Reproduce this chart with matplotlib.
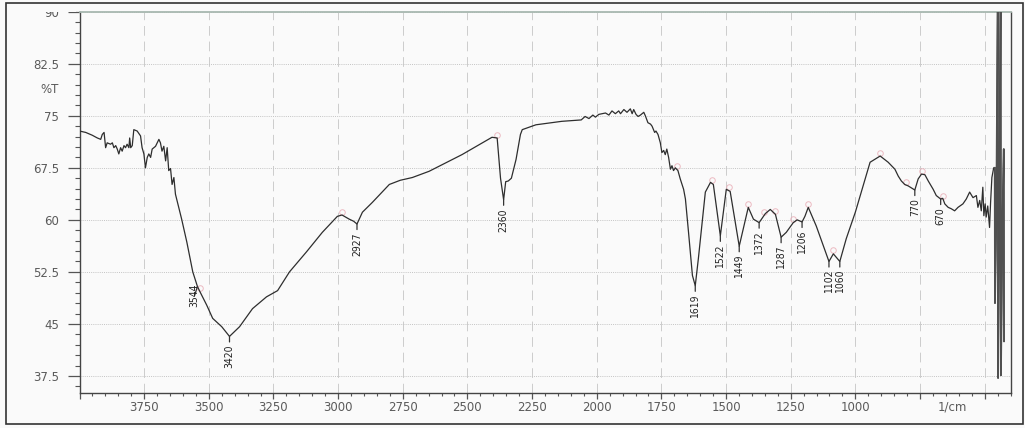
import matplotlib
matplotlib.use("Agg")
import matplotlib.pyplot as plt
import matplotlib.ticker as mticker
import matplotlib.transforms as mtrans
from matplotlib.patches import Rectangle
import numpy as np

# IR spectrum (wavenumber in 1/cm, %T)
wavenumber = [
    4000, 3976, 3951, 3931, 3918, 3912, 3905, 3899, 3893, 3880, 3873, 3867,
    3860, 3854, 3848, 3841, 3835, 3828, 3822, 3816, 3809, 3806, 3802, 3796,
    3790, 3777, 3764, 3758, 3751, 3745, 3738, 3732, 3725, 3719, 3706, 3693,
    3687, 3681, 3674, 3667, 3661, 3655, 3648, 3642, 3635, 3629, 3605, 3585,
    3562, 3544, 3535, 3508, 3485, 3450, 3420, 3381, 3331, 3277, 3234, 3188,
    3122, 3061, 3003, 2985, 2957, 2940, 2927, 2906, 2868, 2802, 2760, 2713,
    2648, 2521, 2405, 2385, 2372, 2360, 2352, 2342, 2330, 2312, 2295, 2288,
    2235, 2135, 2060, 2045, 2030, 2015, 2005, 1992, 1966, 1953, 1941, 1928,
    1915, 1908, 1895, 1883, 1870, 1863, 1857, 1848, 1840, 1831, 1818, 1812,
    1802, 1792, 1786, 1776, 1771, 1763, 1754, 1748, 1741, 1735, 1729, 1722,
    1715, 1709, 1703, 1696, 1686, 1677, 1664, 1657, 1645, 1630, 1619, 1607,
    1580, 1560, 1549, 1522, 1499, 1484, 1449, 1414, 1394, 1372, 1348, 1329,
    1309, 1287, 1267, 1240, 1225, 1206, 1195, 1182, 1151, 1102, 1085, 1060,
    1035, 1000, 943, 904, 873, 847, 834, 822, 809, 796, 770, 757, 744, 731,
    718, 699, 687, 670, 662, 654, 641, 629, 616, 603, 584, 571, 558, 545,
    532, 526, 519, 513, 507, 503, 498, 494, 488, 481, 477, 472, 465, 461,
    460, 455, 449, 448, 443, 438, 437, 431, 426, 425,
]
transmittance = [
    72.8, 72.6, 72.2, 71.8, 71.6, 72.3, 72.6, 70.4, 71.1, 70.9, 71.1, 70.4,
    70.7, 70.2, 69.5, 70.4, 69.9, 70.7, 70.4, 70.9, 70.4, 71.8, 70.4, 70.7,
    73.0, 72.8, 72.1, 70.4, 69.5, 67.5, 69.0, 69.5, 69.0, 70.2, 70.6, 71.6,
    71.1, 69.9, 70.6, 68.5, 70.4, 67.1, 67.4, 65.1, 66.1, 63.7, 60.1, 56.8,
    52.5, 50.4, 49.7, 47.7, 45.8, 44.6, 43.2, 44.6, 47.2, 48.9, 49.8, 52.5,
    55.4, 58.2, 60.5, 60.7, 60.1, 59.8, 59.4, 61.1, 62.5, 65.1, 65.7, 66.1,
    67.0, 69.4, 71.9, 71.8, 66.0, 62.9, 65.5, 65.6, 66.0, 68.7, 72.3, 73.0,
    73.7, 74.2, 74.4, 74.9, 74.6, 75.1, 74.8, 75.2, 75.4, 75.1, 75.7, 75.3,
    75.7, 75.3, 75.9, 75.5, 76.0, 75.3, 75.9, 75.2, 74.9, 75.1, 75.5, 75.0,
    74.0, 73.8, 73.5, 72.6, 72.8, 72.3, 71.1, 69.7, 70.0, 69.4, 70.2, 69.0,
    67.3, 67.8, 67.1, 67.5, 67.1, 65.9, 64.4, 63.0, 58.2, 52.0, 50.5, 54.4,
    64.0, 65.4, 65.1, 57.7, 64.4, 64.1, 56.2, 61.8, 60.1, 59.6, 60.9, 61.5,
    60.8, 57.5, 58.2, 59.6, 60.0, 59.7, 60.5, 61.8, 59.1, 54.0, 55.1, 54.0,
    57.3, 61.1, 68.3, 69.2, 68.3, 67.3, 66.3, 65.6, 65.1, 64.9, 64.3, 65.9,
    66.6, 66.5, 65.6, 64.4, 63.5, 63.0, 63.1, 62.3, 61.8, 61.6, 61.3, 61.8,
    62.3, 63.0, 64.0, 63.2, 63.5, 61.8, 62.8, 61.3, 64.7, 60.6, 62.3, 60.4,
    62.0, 58.9, 62.5, 66.1, 67.5, 67.5, 48.0, 60.0, 95.0, 37.2, 60.0, 95.0,
    37.6, 60.0, 70.2, 42.5,
]

# labelled minima
peak_wn = [3544, 3420, 2927, 2360, 1619, 1522, 1449, 1372, 1287, 1206,
           1102, 1060, 770, 670]
peak_text = ["3544", "3420", "2927", "2360", "1619", "1522", "1449", "1372",
             "1287", "1206", "1102", "1060", "770", "670"]

# faint maxima markers
marker_wn = [3535, 2985, 2385, 1690, 1556, 1490, 1414, 1354, 1310, 1240,
             1182, 1085, 904, 804, 744, 660]

x_labelled = [3750, 3500, 3250, 3000, 2750, 2500, 2250, 2000, 1750, 1500,
              1250, 1000]

wn = np.array(wavenumber, dtype=float)
tr = np.array(transmittance, dtype=float)

fig = plt.figure(figsize=(10.25, 4.28), dpi=100, facecolor="#fafafa")
ax = fig.add_axes([79.5 / 1025, 1 - 393.3 / 428, 931 / 1025, 381.6 / 428])
ax.set_facecolor("#fafafa")

ax.set_xlim(4000, 400)
ax.set_ylim(35, 90)

ax.plot(wn, tr, color="#2e2e2e", lw=0.9, zorder=3)
end = wn < 463
ax.plot(wn[end], tr[end], color="#505050", lw=1.3, zorder=3)

ax.plot(marker_wn, np.interp(marker_wn, wn[::-1], tr[::-1]) + 0.5, "o",
        ms=4, mfc="none", mec="#e8aab4", mew=0.7, alpha=0.8, zorder=2)

# peak labels: short line then rotated text below the curve point
for w, t in zip(peak_wn, peak_text):
    y = np.interp(w, wn[::-1], tr[::-1])
    off = (-2, 2) if w == 3544 else (0, -6)
    ax.annotate(t, xy=(w, y), xytext=off, textcoords="offset points",
                rotation=90, ha="center", va="top", fontsize=7.5,
                family="DejaVu Sans", fontstretch="condensed",
                color="#222222",
                arrowprops=dict(arrowstyle="-", lw=0.9, color="#333333",
                                shrinkA=0, shrinkB=0), zorder=4)

# axes styling
ax.xaxis.set_major_locator(mticker.MultipleLocator(250))
ax.xaxis.set_minor_locator(mticker.MultipleLocator(50))
ax.xaxis.set_major_formatter(mticker.FuncFormatter(
    lambda v, p: "%d" % v if int(round(v)) in x_labelled else ""))
ax.yaxis.set_major_locator(mticker.MultipleLocator(7.5))
ax.yaxis.set_minor_locator(mticker.MultipleLocator(1.5))
ax.yaxis.set_major_formatter(mticker.FuncFormatter(
    lambda v, p: ("%g" % v).replace(".0", "")))

ax.tick_params(axis="x", which="major", direction="out", length=4, width=0.9,
               pad=1.5, labelsize=8.5, labelcolor="#5a5a5a", color="#555555")
ax.tick_params(axis="x", which="minor", direction="out", length=2.4,
               width=0.8, color="#555555")
ax.tick_params(axis="y", which="major", direction="out", length=8.5,
               width=0.9, pad=6, labelsize=8.5, labelcolor="#5a5a5a",
               color="#555555")
ax.tick_params(axis="y", which="minor", direction="out", length=3.5,
               width=0.8, color="#555555")

ax.grid(axis="x", which="major", color="#cccccc", lw=0.7,
        linestyle=(0, (10, 6)))
ax.grid(axis="y", which="major", color="#c4c4c4", lw=0.7,
        linestyle=(0, (1, 1.2)))

for side in ["left", "bottom", "right"]:
    ax.spines[side].set_color("#444444")
    ax.spines[side].set_linewidth(1.0)
ax.spines["top"].set_color("#a8b8b0")
ax.spines["top"].set_linewidth(1.3)

ax.text(-0.022, 78.75, "%T", transform=mtrans.blended_transform_factory(
    ax.transAxes, ax.transData), ha="right", va="center", fontsize=8.5,
    color="#5a5a5a")
ax.text(625, -0.02, "1/cm", transform=mtrans.blended_transform_factory(
    ax.transData, ax.transAxes), ha="center", va="top", fontsize=8.5,
    color="#5a5a5a")

# scan crop hides the top of the "90" label
fig.add_artist(Rectangle((20 / 1025, 1 - 11.6 / 428), 56 / 1025, 7.6 / 428,
                         transform=fig.transFigure, facecolor="#fafafa",
                         edgecolor="none", zorder=10))
# outer frame of the scan
fig.add_artist(Rectangle((5.5 / 1025, 4 / 428), 1017 / 1025, 421 / 428,
                         transform=fig.transFigure, facecolor="none",
                         edgecolor="#333333", lw=1.2, zorder=11))

fig.savefig("out.png", dpi=100, facecolor=fig.get_facecolor())
